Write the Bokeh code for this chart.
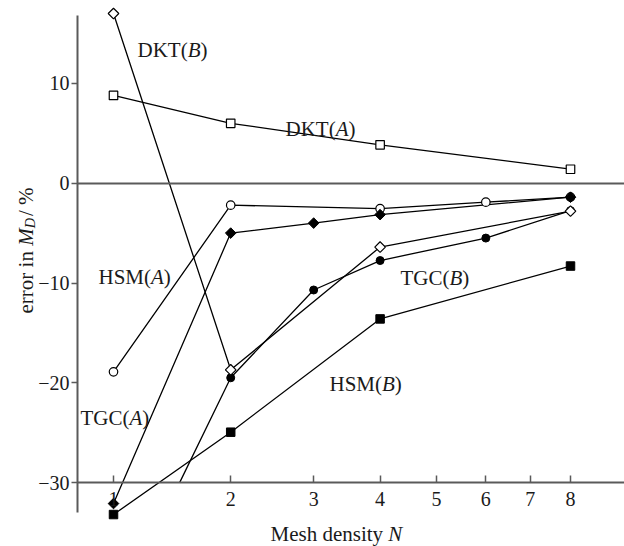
import numpy as np
from bokeh.plotting import figure
from bokeh.models import Label, FixedTicker, CustomJSTickFormatter, Range1d, LinearAxis
from bokeh.embed import file_html
from bokeh.resources import INLINE

# ---------------- data ----------------
n_dkt_a = [1, 2, 4, 8]
dkt_a = [8.8, 6.0, 3.85, 1.4]

n_dkt_b = [1, 2, 4, 8]
dkt_b = [17.0, -18.7, -6.4, -2.8]

n_hsm_a = [1, 2, 4, 6, 8]
hsm_a = [-18.9, -2.2, -2.55, -1.9, -1.4]

n_tgc_a = [1, 2, 3, 4, 8]
tgc_a = [-32.1, -5.0, -4.0, -3.15, -1.4]

n_tgc_b = [1, 2, 3, 4, 6, 8]
tgc_b = [-43.6, -19.5, -10.7, -7.75, -5.5, -2.75]

n_hsm_b = [1, 2, 4, 8]
hsm_b = [-33.2, -24.95, -13.6, -8.3]

x_ticks = [1, 2, 3, 4, 5, 6, 7, 8]
y_ticks = [-30, -20, -10, 0, 10]
axis_floor = -30

# ---------------- scale (the N axis is compressed like N**0.35) ----------------
C = 0.35
def tx(n):
    return float(n) ** C

# pixel -> data helpers for placing guides and annotations
PX_PER_T = 457.0 / (tx(8) - tx(1))
def t_of_px(px):
    return tx(1) + (px - 113) / PX_PER_T
def v_of_py(py):
    return (182.7 - py) / 9.98

FONT = "Liberation Serif"
GRAY = "#5a5a5a"
TXT = "#1a1a1a"

p = figure(width=624, height=546, output_backend="svg", toolbar_location=None,
           x_range=Range1d(t_of_px(0), t_of_px(624)),
           y_range=Range1d(v_of_py(546), v_of_py(0)),
           x_axis_location=None, y_axis_location=None,
           min_border_left=0, min_border_right=0, min_border_top=0, min_border_bottom=0)
p.outline_line_color = None
p.grid.visible = False
p.background_fill_color = "white"
p.border_fill_color = "white"

# x axis, drawn at y = -30
xa = LinearAxis(fixed_location=axis_floor, bounds=(t_of_px(77), t_of_px(624)))
xa.ticker = FixedTicker(ticks=[tx(n) for n in x_ticks])
xa.formatter = CustomJSTickFormatter(code="return String(Math.round(Math.pow(tick, 1/%s)));" % C)
xa.major_tick_in = 7
xa.major_tick_out = 0
xa.minor_tick_line_color = None
xa.axis_line_color = GRAY
xa.axis_line_width = 2
xa.major_tick_line_color = GRAY
xa.major_tick_line_width = 1.5
xa.major_label_text_font = FONT
xa.major_label_text_font_size = "20px"
xa.major_label_text_color = TXT
xa.major_label_standoff = 9
p.add_layout(xa, "below")

# y axis, drawn at the left edge of the data area
ya = LinearAxis(fixed_location=t_of_px(77), bounds=(v_of_py(512), v_of_py(15)))
ya.ticker = FixedTicker(ticks=y_ticks)
ya.formatter = CustomJSTickFormatter(code="return tick < 0 ? '\u2212' + Math.abs(tick) : String(tick);")
ya.major_tick_in = 0
ya.major_tick_out = 6
ya.minor_tick_line_color = None
ya.axis_line_color = GRAY
ya.axis_line_width = 2
ya.major_tick_line_color = GRAY
ya.major_tick_line_width = 1.5
ya.major_label_text_font = FONT
ya.major_label_text_font_size = "20px"
ya.major_label_text_color = TXT
ya.major_label_standoff = 2
p.add_layout(ya, "left")

# zero reference line (an axis without ticks)
za = LinearAxis(fixed_location=0, bounds=(t_of_px(77), t_of_px(624)),
                ticker=FixedTicker(ticks=[]), axis_line_color=GRAY, axis_line_width=2,
                major_tick_line_color=None, minor_tick_line_color=None,
                major_label_text_font_size="0px")
p.add_layout(za, "below")

LW = 1.3
def xs(ns):
    return [tx(n) for n in ns]

# lines
p.line(xs(n_dkt_a), dkt_a, line_color="black", line_width=LW)
p.line(xs(n_dkt_b), dkt_b, line_color="black", line_width=LW)
p.line(xs(n_hsm_a), hsm_a, line_color="black", line_width=LW)
p.line(xs(n_tgc_a), tgc_a, line_color="black", line_width=LW)
p.line(xs(n_hsm_b), hsm_b, line_color="black", line_width=LW)
# TGC(B): first value is off-scale; its line is cut where it meets the x axis
t1, t2 = tx(n_tgc_b[0]), tx(n_tgc_b[1])
frac = (axis_floor - tgc_b[0]) / (tgc_b[1] - tgc_b[0])
t_cut = t1 + frac * (t2 - t1)
p.line([t_cut] + xs(n_tgc_b[1:]), [axis_floor] + tgc_b[1:], line_color="black", line_width=LW)

# markers (open first, filled on top)
p.scatter(xs(n_hsm_a), hsm_a, marker="circle", size=8.5, fill_color="white", line_color="black", line_width=1.2)
p.scatter(xs(n_tgc_b[1:]), tgc_b[1:], marker="circle", size=8, fill_color="black", line_color="black")
p.scatter(xs(n_dkt_a), dkt_a, marker="square", size=8.5, fill_color="white", line_color="black", line_width=1.2)
p.scatter(xs(n_dkt_b), dkt_b, marker="square", angle=np.pi / 4, size=7.5, fill_color="white", line_color="black", line_width=1.2)
p.scatter(xs(n_tgc_a), tgc_a, marker="square", angle=np.pi / 4, size=7.5, fill_color="black", line_color="black")
p.scatter(xs(n_hsm_b), hsm_b, marker="square", size=8.5, fill_color="black", line_color="black")

# --------- rich text labels ---------
W_REG = {" ": 250, "(": 333, ")": 333, "/": 278, "%": 833, "A": 722, "B": 667, "C": 667, "D": 722,
         "G": 722, "H": 722, "K": 722, "M": 889, "S": 556, "T": 611, "N": 722, "d": 500, "e": 444,
         "i": 278, "n": 500, "o": 500, "r": 333, "s": 389, "t": 278, "y": 500, "h": 500}
W_IT = {"A": 611, "B": 611, "M": 833, "D": 722, "N": 667}

def width(txt, size, italic):
    tab = W_IT if italic else W_REG
    return sum(tab.get(ch, W_REG.get(ch, 500)) for ch in txt) * size / 1000.0

def rich(parts, px, py, size=21, vertical=False):
    off = 0.0
    for txt, italic, sub in parts:
        s = size * 0.68 if sub else size
        shift = 4 if sub else 0
        common = dict(x=t_of_px(px), y=v_of_py(py), text=txt, text_font=FONT,
                      text_font_size="%.1fpx" % s,
                      text_font_style="italic" if italic else "normal",
                      text_align="left", text_baseline="alphabetic", text_color=TXT)
        if vertical:
            lab = Label(x_offset=shift, y_offset=off, angle=np.pi / 2, **common)
        else:
            lab = Label(x_offset=off, y_offset=-shift, **common)
        p.add_layout(lab)
        off += width(txt, s, italic) + (2 if sub else 0)

def series_label(name, letter, px, py):
    rich([(name + "(", False, False), (letter, True, False), (")", False, False)], px, py)

series_label("DKT", "B", 137, 49)
series_label("DKT", "A", 285, 128)
series_label("HSM", "A", 98, 276)
series_label("TGC", "A", 80, 417)
series_label("TGC", "B", 400, 277)
series_label("HSM", "B", 329, 383)

rich([("Mesh density ", False, False), ("N", True, False)], 270, 533)
rich([("error in ", False, False), ("M", True, False), ("D", True, True), (" / %", False, False)],
     25, 313, vertical=True)

open("out.html", "w").write(file_html(p, INLINE))
